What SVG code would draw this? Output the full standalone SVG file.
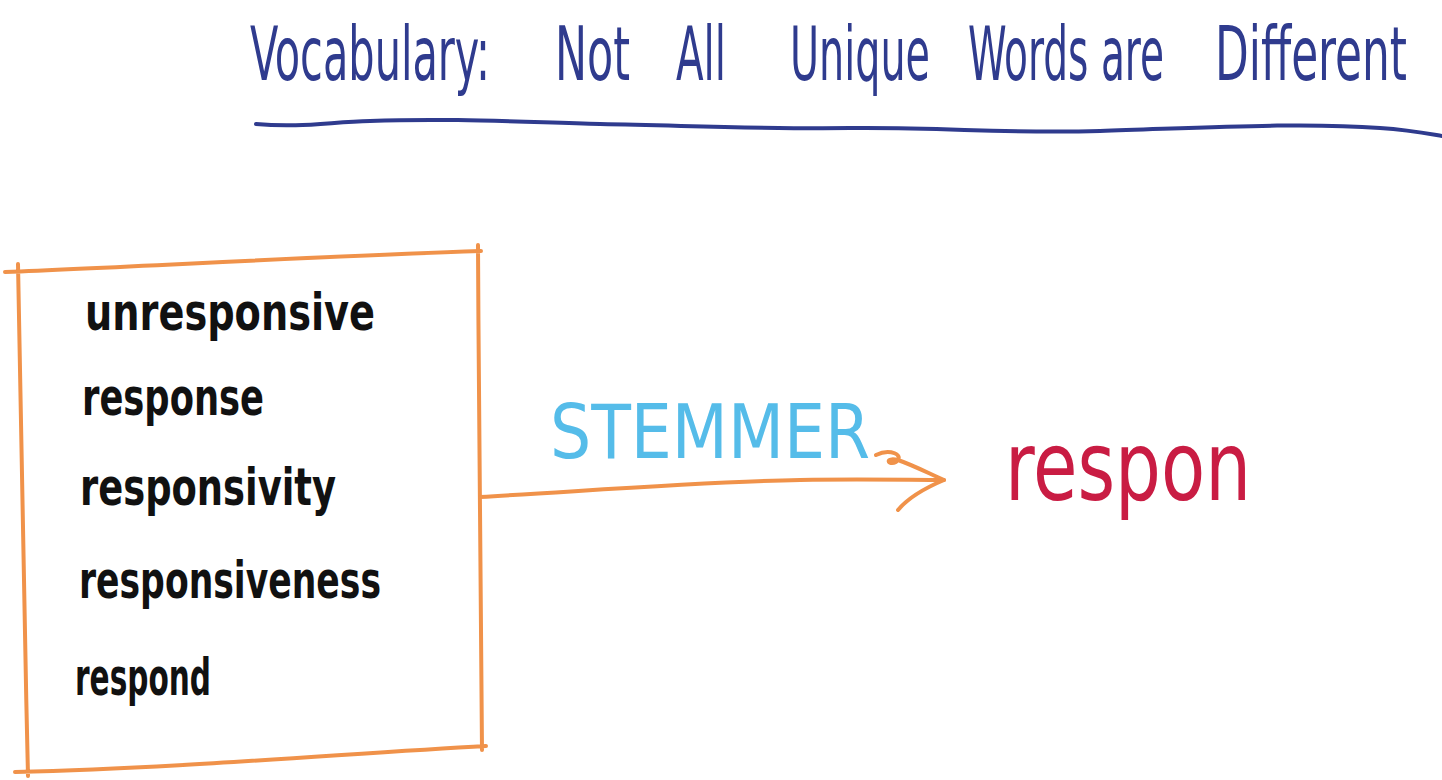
<svg xmlns="http://www.w3.org/2000/svg" width="1442" height="780" viewBox="0 0 1442 780">
<style>
.hand{font-family:"DejaVu Sans Condensed","Liberation Sans Narrow","Liberation Sans",sans-serif}
.title{fill:#2f3b8e;font-size:44px}
.word{fill:#111;font-size:46px;font-weight:bold}
.orange{fill:none;stroke:#f0924a;stroke-width:4;stroke-linecap:round;stroke-linejoin:round}
.stem{fill:#55bce9;font-size:64px}
.result{fill:#c91c43;font-size:80px}
</style>
<rect width="1442" height="780" fill="#ffffff"/>
<g id="title" class="hand title">
<text transform="translate(250,80) scale(1,1.7)" textLength="240" lengthAdjust="spacingAndGlyphs">Vocabulary:</text>
<text transform="translate(555,80) scale(1,1.7)" textLength="75" lengthAdjust="spacingAndGlyphs">Not</text>
<text transform="translate(676,80) scale(1,1.7)" textLength="50" lengthAdjust="spacingAndGlyphs">All</text>
<text transform="translate(790,80) scale(1,1.7)" textLength="140" lengthAdjust="spacingAndGlyphs">Unique</text>
<text transform="translate(968,80) scale(1,1.7)" textLength="196" lengthAdjust="spacingAndGlyphs">Words are</text>
<text transform="translate(1215,80) scale(1,1.7)" textLength="192" lengthAdjust="spacingAndGlyphs">Different</text>
<path d="M256,124 C300,128 330,122 370,121 C450,118 520,122 600,124 C700,126 760,129 850,128 C950,127 1000,134 1100,131 C1200,128 1300,122 1380,128 C1410,130 1430,134 1442,136" fill="none" stroke="#2f3b8e" stroke-width="4" stroke-linecap="round"/>
</g>
<g id="word-list">
<path class="orange" d="M5,272 C150,266 330,256 481,251 M18,264 C20,420 24,600 28,776 M478,245 C479,420 480,600 482,750 M15,772 C180,768 340,754 486,746"/>
<g class="hand word">
<text transform="translate(85,330) scale(1,1.13)" textLength="290" lengthAdjust="spacingAndGlyphs">unresponsive</text>
<text transform="translate(82,415) scale(1,1.13)" textLength="182" lengthAdjust="spacingAndGlyphs">response</text>
<text transform="translate(80,505) scale(1,1.13)" textLength="256" lengthAdjust="spacingAndGlyphs">responsivity</text>
<text transform="translate(79,598) scale(1,1.13)" textLength="302" lengthAdjust="spacingAndGlyphs">responsiveness</text>
<text transform="translate(75,695) scale(1,1.13)" textLength="136" lengthAdjust="spacingAndGlyphs">respond</text>
</g>
</g>
<g id="connectors">
<path class="orange" d="M480,497 C600,490 700,482 800,480 C860,479 910,480 944,480"/>
<path class="orange" d="M876,455 C890,448 905,455 896,462 C888,466 884,457 898,460 C915,466 930,474 944,480 C925,488 908,498 898,510"/>
</g>
<g id="stemmer-label">
<text class="hand stem" transform="translate(550,458) scale(1,1.18)" textLength="320" lengthAdjust="spacingAndGlyphs">STEMMER</text>
</g>
<g id="stem-result">
<text class="hand result" transform="translate(1005,500) scale(1,1.2)" textLength="246" lengthAdjust="spacingAndGlyphs">respon</text>
</g>
</svg>
